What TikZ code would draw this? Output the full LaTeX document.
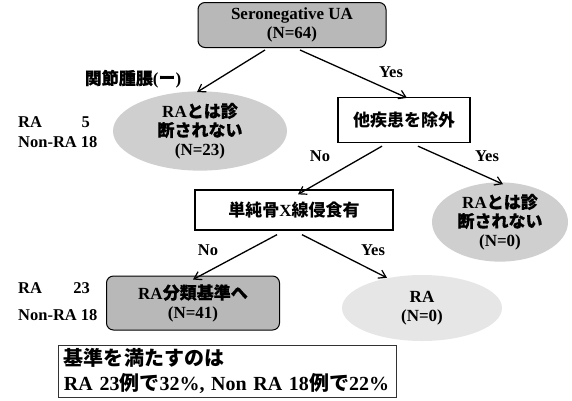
\documentclass[tikz,border=0pt]{standalone}
\usepackage{fontspec}
\setmainfont{Liberation Serif}
\newfontfamily\jpr{Noto Sans CJK JP}
\newfontfamily\jpbold[FakeBold=0.5]{Noto Sans CJK JP}
\newcommand\jr[1]{{\jpr #1}}
\newcommand\jb[1]{{\jpbold #1}}
\usetikzlibrary{shapes.geometric,arrows.meta}
\definecolor{gDark}{HTML}{B8B8B8}
\definecolor{gMid}{HTML}{CFCFCF}
\definecolor{gLight}{HTML}{E6E6E6}
\tikzset{
  base/.style={font=\fontsize{17bp}{19bp}\selectfont\bfseries, align=center, inner sep=0pt},
  graybox/.style={base, draw=black, line width=1bp, rounded corners=7bp, fill=gDark},
  plainbox/.style={base, draw=black, line width=1.3bp, fill=white},
  oval/.style={base, ellipse, fill=gMid},
  lab/.style={base, font=\fontsize{16.5bp}{18bp}\selectfont\bfseries},
  conn/.style={line width=1.3bp, -{Straight Barb[length=7bp,width=9bp,line width=1.2bp]}}
}
\begin{document}
\begin{tikzpicture}[x=1bp,y=-1bp]
\useasboundingbox (0,0) rectangle (572,400);
% nodes
\node[graybox, minimum width=188bp, minimum height=45bp] (top) at (292,25) {Seronegative UA\\(N=64)};
\node[oval, minimum width=174bp, minimum height=76bp] (L) at (200,131) {RA\jb{とは診}\\\jb{断されない}\\(N=23)};
\node[plainbox, minimum width=132bp, minimum height=45bp] (B1) at (404,120) {\jr{他疾患を除外}};
\node[oval, minimum width=136bp, minimum height=78bp] (R) at (500,222) {RA\jb{とは診}\\\jb{断されない}\\(N=0)};
\node[plainbox, minimum width=198bp, minimum height=40bp] (B2) at (294,210) {\jr{単純骨}X\jr{線侵食有}};
\node[graybox, minimum width=173bp, minimum height=54bp] (B3) at (193,303) {RA\jb{分類基準へ}\\(N=41)};
\node[oval, fill=gLight, minimum width=160bp, minimum height=66bp] (RA) at (422,308) {RA\\(N=0)};
\node[base, font=\fontsize{20bp}{25bp}\selectfont\bfseries, draw=black!80, line width=0.7bp, minimum width=338bp, minimum height=52bp, text width=326bp, align=left] (note) at (227,371)
  {\jr{基準を満たすのは}\\RA 23\jr{例で}32\%, Non RA 18\jr{例で}22\%};
% side labels
\node[lab, anchor=west] (l1a) at (18,122) {RA};
\node[lab, anchor=east] (l1b) at (90,122) {5};
\node[lab, anchor=west] (l1c) at (18,142) {Non-RA 18};
\node[lab, anchor=west] (l2a) at (18,288) {RA};
\node[lab, anchor=east] (l2b) at (90,288) {23};
\node[lab, anchor=west] (l2c) at (18,315) {Non-RA 18};
% edge labels
\node[base] (t0) at (133,79) {\jb{関節腫脹}(\jr{ー})};
\node[lab] (t1) at (391,72) {Yes};
\node[lab] (t2) at (320,156) {No};
\node[lab] (t3) at (487,156) {Yes};
\node[lab] (t4) at (208,250) {No};
\node[lab] (t5) at (373,250) {Yes};
% connectors
\draw[conn] ([xshift=-27bp,yshift=-2bp]top.south) -- ([xshift=-3bp,yshift=-1bp]L.north);
\draw[conn] ([xshift=8bp,yshift=-2bp]top.south) -- ([xshift=3bp,yshift=-1bp]B1.north);
\draw[conn] ([xshift=-22bp,yshift=-3bp]B1.south) -- ([xshift=4bp,yshift=-5bp]B2.north);
\draw[conn] ([xshift=14bp,yshift=-3bp]B1.south) -- ([xshift=3bp,yshift=-2bp]R.north);
\draw[conn] ([xshift=-17bp,yshift=-4bp]B2.south) -- ([yshift=-4bp]B3.north);
\draw[conn] ([xshift=8bp,yshift=-4bp]B2.south) -- ([xshift=-35bp,yshift=-3bp]RA.north);
\end{tikzpicture}
\end{document}
